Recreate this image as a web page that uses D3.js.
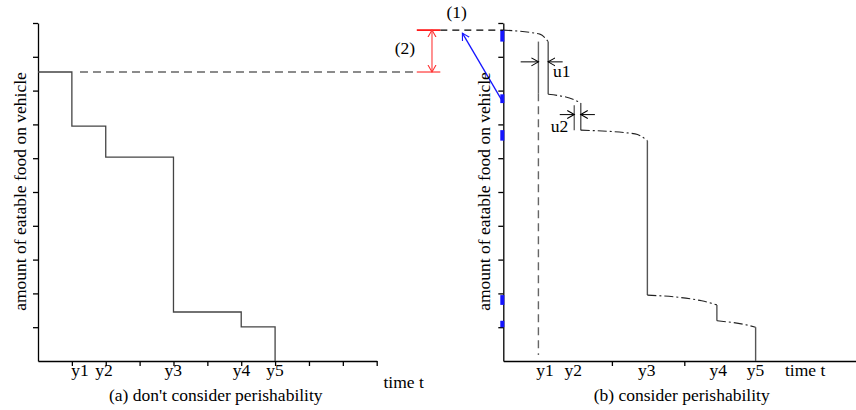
<!DOCTYPE html>
<html>
<head>
<meta charset="utf-8">
<script src="https://cdn.jsdelivr.net/npm/d3@7"></script>
<style>
html,body{margin:0;padding:0;background:#fff;}
svg{display:block;font-family:"Liberation Serif","Times New Roman",serif;}
</style>
</head>
<body>
<svg id="c" width="856" height="410"></svg>
<script>
// ---------- data ----------
const yTicks = [1,2,3,4,5,6,7,8,9,10];
const xTicksLeft = [1,2,3,4,5,6,7,8,9,10];
const xTicksRight = [3,5];
const timeLabels = ["y1","y2","y3","y4","y5"];
const labelPosLeft = [1.24,1.95,3.99,6.01,7.0];
const labelPosRight = [1.15,1.93,3.96,5.94,6.97];

// (a) step function without perishability
const stepLeftT = [0,1,2,4,6,7];
const stepLeftV = [8.55,6.95,6.03,1.45,1.01,0];

// (b) decay segments with perishability
const decayStartT = [0,1.24,2.14,3.98,5.90];
const decayStartV = [9.79,7.89,6.83,1.95,1.19];
const decayKneeT  = [1.01,1.98,3.64,5.48,6.75];
const decayKneeV  = [9.67,7.72,6.72,1.78,1.06];
const decayEndT   = [1.24,2.14,3.98,5.90,6.97];
const decayEndV   = [9.45,7.63,6.52,1.66,1.00];

const delayLabels = ["u1","u2"];

// ---------- layout ----------
const svg = d3.select("#c");
const yS = d3.scaleLinear([0,10],[361,23]);
const xL = d3.scaleLinear([0,10],[38,376.7]);
const xR = d3.scaleLinear([0,10],[503.3,865.3]);

const defs = svg.append("defs");
function chevron(id,color){
  defs.append("marker").attr("id",id).attr("viewBox","-7 -5 9 10")
    .attr("refX",0).attr("refY",0).attr("markerWidth",9).attr("markerHeight",10)
    .attr("markerUnits","userSpaceOnUse").attr("orient","auto-start-reverse")
    .append("path").attr("d","M-7,-4L0,0L-7,4").attr("fill","none")
    .attr("stroke",color).attr("stroke-width",1.1);
}
chevron("ak","#000");
chevron("ab","#1515ff");
chevron("ar","#ff3030");

const FS = 17.5;

// ---------- axes ----------
function drawAxes(xs, xt){
  const gx = svg.append("g").attr("transform","translate(0,361)")
    .call(d3.axisBottom(xs).tickValues(xt).tickSize(5).tickSizeOuter(0).tickFormat(""));
  const gy = svg.append("g").attr("transform",`translate(${xs(0)},0)`)
    .call(d3.axisLeft(yS).tickValues(yTicks).tickSize(5).tickSizeOuter(0).tickFormat(""));
  [gx,gy].forEach(g=>{
    g.selectAll("path,line").attr("stroke","#000").attr("stroke-width",1.3);
  });
}
drawAxes(xL, xTicksLeft);
drawAxes(xR, xTicksRight);

// ---------- (a) step line ----------
const stepData = stepLeftT.map((t,i)=>[t,stepLeftV[i]]);
svg.append("path")
  .attr("d", d3.line().x(d=>xL(d[0])).y(d=>yS(d[1])).curve(d3.curveStepAfter)(stepData))
  .attr("fill","none").attr("stroke","#444").attr("stroke-width",1.3);

// dashed reference of initial level
svg.append("line")
  .attr("x1",xL(1.24)).attr("x2",xR(-2.39))
  .attr("y1",yS(stepLeftV[0])).attr("y2",yS(stepLeftV[0]))
  .attr("stroke","#666").attr("stroke-width",1.4).attr("stroke-dasharray","8,5");

// ---------- (b) perishable curve ----------
const decayLine = d3.line().x(d=>xR(d[0])).y(d=>yS(d[1])).curve(d3.curveMonotoneX);
decayStartT.forEach((t,i)=>{
  const pts = [[t,decayStartV[i]],[decayKneeT[i],decayKneeV[i]],[decayEndT[i],decayEndV[i]]];
  svg.append("path").attr("d",decayLine(pts))
    .attr("fill","none").attr("stroke","#222").attr("stroke-width",1.1)
    .attr("stroke-dasharray","9,3,2,3");
  // drop
  const nextV = i+1 < decayStartV.length ? decayStartV[i+1] : 0;
  svg.append("line")
    .attr("x1",xR(decayEndT[i])).attr("x2",xR(decayEndT[i]))
    .attr("y1",yS(decayEndV[i])).attr("y2",yS(nextV))
    .attr("stroke","#555").attr("stroke-width",1.4);
  // blue loss mark on axis
  svg.append("line")
    .attr("x1",xR(0)-1).attr("x2",xR(0)-1)
    .attr("y1",yS(decayStartV[i])).attr("y2",yS(decayEndV[i]))
    .attr("stroke","#1515ff").attr("stroke-width",4);
});

// y1 reference line (solid upper, dashed lower)
svg.append("line").attr("x1",xR(0.97)).attr("x2",xR(0.97))
  .attr("y1",yS(decayEndV[0])).attr("y2",yS(7.92))
  .attr("stroke","#666").attr("stroke-width",1.4);
svg.append("line").attr("x1",xR(0.97)).attr("x2",xR(0.97))
  .attr("y1",yS(7.92)).attr("y2",yS(0.18))
  .attr("stroke","#666").attr("stroke-width",1.4).attr("stroke-dasharray","8,5");
// y2 reference
svg.append("line").attr("x1",xR(1.96)).attr("x2",xR(1.96))
  .attr("y1",yS(7.57)).attr("y2",yS(decayStartV[2]))
  .attr("stroke","#666").attr("stroke-width",1.4);

// u1/u2 arrows
function arrow(x1,y1,x2,y2,m,color,w){
  svg.append("line").attr("x1",x1).attr("y1",y1).attr("x2",x2).attr("y2",y2)
    .attr("stroke",color).attr("stroke-width",w).attr("marker-end",`url(#${m})`);
}
arrow(xR(0.48),yS(8.85),xR(0.97),yS(8.85),"ak","#000",1);
arrow(xR(1.64),yS(8.85),xR(1.24),yS(8.85),"ak","#000",1);
arrow(xR(1.56),yS(7.29),xR(1.96),yS(7.29),"ak","#000",1);
arrow(xR(2.53),yS(7.29),xR(2.14),yS(7.29),"ak","#000",1);
svg.append("text").attr("x",xR(1.37)).attr("y",yS(8.40)).attr("font-size",FS).text(delayLabels[0]);
svg.append("text").attr("x",xR(1.31)).attr("y",yS(6.78)).attr("font-size",FS).text(delayLabels[1]);

// black dashed at initial perishable level
svg.append("line").attr("x1",xR(-1.74)).attr("x2",xR(0))
  .attr("y1",yS(decayStartV[0])).attr("y2",yS(decayStartV[0]))
  .attr("stroke","#000").attr("stroke-width",1.2).attr("stroke-dasharray","7,5");

// red bracket (2)
[decayStartV[0], stepLeftV[0]].forEach((v,i)=>{
  svg.append("line").attr("x1",xR(-2.39)).attr("x2",xR(-1.74))
    .attr("y1",yS(v)).attr("y2",yS(v))
    .attr("stroke", i===0 ? "#ff0000" : "#ff6a6a").attr("stroke-width",1.6);
});
svg.append("line").attr("x1",xR(-1.97)).attr("x2",xR(-1.97))
  .attr("y1",yS(decayStartV[0])).attr("y2",yS(stepLeftV[0]))
  .attr("stroke","#ff4a4a").attr("stroke-width",1.2)
  .attr("marker-start","url(#ar)").attr("marker-end","url(#ar)");
svg.append("text").attr("x",xR(-3.0)).attr("y",yS(9.08)).attr("font-size",FS).text("(2)");

// blue arrow (1)
arrow(xR(-0.06),yS(7.75),xR(-1.13),yS(9.70),"ab","#1515ff",1.3);
svg.append("text").attr("x",xR(-1.29)).attr("y",yS(10.15)).attr("text-anchor","middle")
  .attr("font-size",FS).text("(1)");

// ---------- labels ----------
function tlabels(xs,pos){
  svg.append("g").selectAll("text").data(timeLabels).join("text")
    .attr("x",(d,i)=>xs(pos[i])).attr("y",375.5).attr("text-anchor","middle")
    .attr("font-size",FS).text(d=>d);
}
tlabels(xL,labelPosLeft);
tlabels(xR,labelPosRight);

svg.append("text").attr("x",383.5).attr("y",387.5).attr("font-size",FS).text("time t");
svg.append("text").attr("x",785).attr("y",375.5).attr("font-size",FS).text("time t");

svg.append("text").attr("x",215.8).attr("y",400.5).attr("text-anchor","middle")
  .attr("font-size",FS).text("(a) don't consider perishability");
svg.append("text").attr("x",681.7).attr("y",400.5).attr("text-anchor","middle")
  .attr("font-size",FS).text("(b) consider perishability");

svg.append("text").attr("transform","translate(25.5,191.5) rotate(-90)")
  .attr("text-anchor","middle").attr("font-size",FS).text("amount of eatable food on vehicle");
svg.append("text").attr("transform","translate(489.5,191.5) rotate(-90)")
  .attr("text-anchor","middle").attr("font-size",FS).text("amount of eatable food on vehicle");
</script>
</body>
</html>
